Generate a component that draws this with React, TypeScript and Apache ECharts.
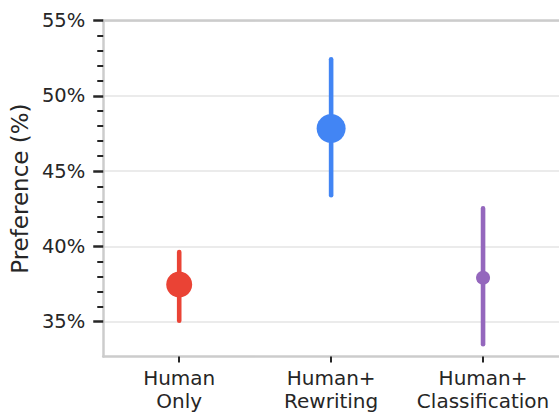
import React, { useEffect, useRef } from "react";
import * as echarts from "echarts";

const categories = ["Human\nOnly", "Human+\nRewriting", "Human+\nClassification"];
const means = [37.48, 47.84, 37.92];
const lowers = [35.07, 43.41, 33.5];
const uppers = [39.63, 52.44, 42.53];
const colors = ["#EA4335", "#4285F4", "#9467BD"];
const markerSizes = [26, 29, 14];
const majorTicks = [35, 40, 45, 50, 55];
const minorTicks = [36, 37, 38, 39, 41, 42, 43, 44, 46, 47, 48, 49, 51, 52, 53, 54];

const FONT = "DejaVu Sans";
const TEXT = "#262626";
const SPINE = "#cccccc";

export default function App() {
  const ref = useRef<HTMLDivElement>(null);
  useEffect(() => {
    if (!ref.current) return;
    const chart = echarts.init(ref.current, null, { renderer: "svg" });
    const errData = categories.map((_, i) => [i, lowers[i], uppers[i]]);
    const ptData = categories.map((_, i) => ({
      value: [i, means[i]],
      symbolSize: markerSizes[i],
      itemStyle: { color: colors[i], opacity: 1 },
    }));
    chart.setOption({
      animation: false,
      backgroundColor: "#ffffff",
      grid: { left: 101.5, right: -4.5, top: 20.7, bottom: 59.5, containLabel: false },
      xAxis: [
        {
          type: "category",
          data: categories,
          position: "bottom",
          boundaryGap: true,
          axisLine: { show: true, lineStyle: { color: SPINE, width: 2.5 } },
          axisTick: { show: true, alignWithLabel: true, length: 6, lineStyle: { color: TEXT, width: 2 } },
          axisLabel: { interval: 0, color: TEXT, fontFamily: FONT, fontSize: 20, lineHeight: 23, margin: 10 },
          splitLine: { show: false },
        },
        {
          type: "category",
          data: categories,
          position: "top",
          axisLine: { show: true, lineStyle: { color: SPINE, width: 2.5 } },
          axisTick: { show: false },
          axisLabel: { show: false },
          splitLine: { show: false },
        },
      ],
      yAxis: [
        {
          type: "value",
          position: "left",
          min: 32.69,
          max: 55,
          name: "Preference (%)",
          nameLocation: "middle",
          nameGap: 65,
          nameTextStyle: { color: TEXT, fontFamily: FONT, fontSize: 23 },
          axisLine: { show: true, lineStyle: { color: SPINE, width: 2.5 } },
          axisTick: { show: true, length: 10, customValues: majorTicks, lineStyle: { color: TEXT, width: 2.5 } },
          axisLabel: {
            color: TEXT,
            fontFamily: FONT,
            fontSize: 19.5,
            margin: 18,
            customValues: majorTicks,
            formatter: (v: number) => `${v}%`,
          },
          splitLine: { show: true, lineStyle: { color: "#e5e5e5", width: 1.5 } },
        },
        {
          type: "value",
          position: "left",
          min: 32.69,
          max: 55,
          axisLine: { show: false },
          axisTick: { show: true, length: 6, customValues: minorTicks, lineStyle: { color: TEXT, width: 2 } },
          axisLabel: { show: false },
          splitLine: { show: false },
        },
      ],
      series: [
        {
          type: "custom",
          xAxisIndex: 0,
          yAxisIndex: 0,
          z: 2,
          data: errData,
          renderItem: (params: any, api: any) => {
            const i = api.value(0);
            const p1 = api.coord([i, api.value(1)]);
            const p2 = api.coord([i, api.value(2)]);
            return {
              type: "line",
              shape: { x1: p1[0], y1: p1[1], x2: p2[0], y2: p2[1] },
              style: { stroke: colors[params.dataIndex], lineWidth: 4.6, lineCap: "round" },
            };
          },
        },
        {
          type: "scatter",
          xAxisIndex: 0,
          yAxisIndex: 0,
          z: 3,
          symbol: "circle",
          data: ptData,
        },
      ],
    });
    return () => chart.dispose();
  }, []);
  return (
    <div
      ref={ref}
      style={{ position: "fixed", left: 0, top: 0, width: 559, height: 416 }}
    />
  );
}
